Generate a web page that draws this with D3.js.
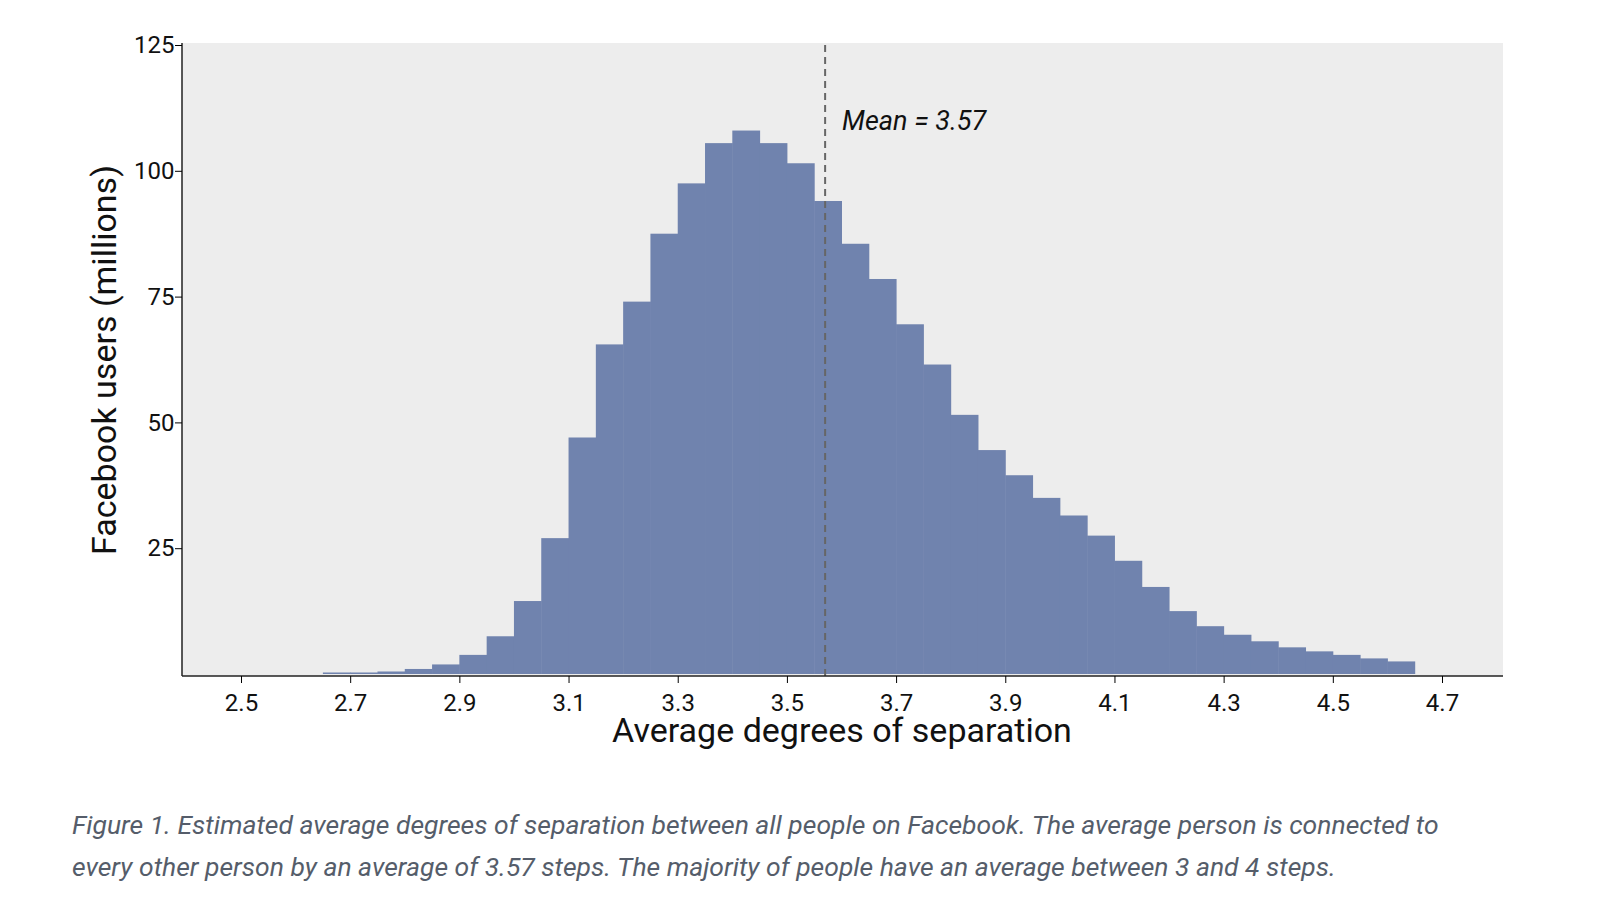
<!DOCTYPE html>
<html><head><meta charset="utf-8">
<script src="https://cdn.jsdelivr.net/npm/d3@7"></script>
<style>body{margin:0;background:#fff;font-family:Roboto,sans-serif}</style></head>
<body><svg id="c" width="1600" height="913"></svg>
<script>
const binStart = 2.65, binWidth = 0.05;
const counts = [0.3,0.3,0.5,1,1.9,3.8,7.5,14.5,27,47,65.5,74,87.5,97.5,105.5,108,105.5,101.5,94,85.5,78.5,69.5,61.5,51.5,44.5,39.5,35,31.5,27.5,22.5,17.3,12.5,9.5,7.8,6.5,5.3,4.5,3.8,3.1,2.5];
const xTicks = [2.5,2.7,2.9,3.1,3.3,3.5,3.7,3.9,4.1,4.3,4.5,4.7];
const yTicks = [25,50,75,100,125];
const meanValue = 3.57;
const caption = ["Figure 1. Estimated average degrees of separation between all people on Facebook. The average person is connected to","every other person by an average of 3.57 steps. The majority of people have an average between 3 and 4 steps."];

const svg = d3.select("#c");
const L=182,R=1503,T=43,B=676;
const x = d3.scaleLinear().domain([2.5,4.7]).range([241,1442]);
const y = d3.scaleLinear().domain([0,125]).range([674,45]);
svg.append("rect").attr("x",L).attr("y",T).attr("width",R-L).attr("height",B-T).attr("fill","#ededed");
svg.append("g").selectAll("rect").data(counts).join("rect")
 .attr("x",(d,i)=>x(binStart+i*binWidth)).attr("width",(d,i)=>x(binStart+(i+1)*binWidth)-x(binStart+i*binWidth)+0.5)
 .attr("y",d=>y(d)).attr("height",d=>y(0)-y(d)).attr("fill","#7083ae");
svg.append("line").attr("x1",x(meanValue)).attr("x2",x(meanValue)).attr("y1",T+2).attr("y2",B)
 .attr("stroke","#666").attr("stroke-width",2).attr("stroke-dasharray","7,5");
svg.append("text").attr("x",x(meanValue)+17).attr("y",130).attr("font-size",27).attr("font-style","italic").attr("fill","#111").text("Mean = 3.57");
const xa = svg.append("g").attr("transform",`translate(0,${B})`).call(d3.axisBottom(x).tickValues(xTicks).tickSize(7).tickFormat(d3.format(".1f")));
xa.select(".domain").attr("d",`M${L},0H${R}`).attr("stroke","#222").attr("stroke-width",1.5);
const ya = svg.append("g").attr("transform",`translate(${L},0)`).call(d3.axisLeft(y).tickValues(yTicks).tickSize(7));
ya.select(".domain").attr("d",`M0,${T}V${B}`).attr("stroke","#222").attr("stroke-width",1.5);
svg.selectAll(".tick text").attr("font-size",24).attr("font-family","Roboto, sans-serif").attr("fill","#111");
xa.selectAll(".tick text").attr("dy","1.05em");
ya.selectAll(".tick text").attr("dx","0.1em");
svg.append("text").attr("x",842).attr("y",742).attr("text-anchor","middle").attr("font-size",34).attr("fill","#111").text("Average degrees of separation");
svg.append("text").attr("transform","translate(116,360) rotate(-90)").attr("text-anchor","middle").attr("font-size",34).attr("fill","#111").text("Facebook users (millions)");
svg.selectAll(".cap").data(caption).join("text").attr("x",72).attr("y",(d,i)=>834+i*42).attr("font-size",26.5).attr("font-style","italic").attr("fill","#555d6a").text(d=>d);
</script></body></html>
